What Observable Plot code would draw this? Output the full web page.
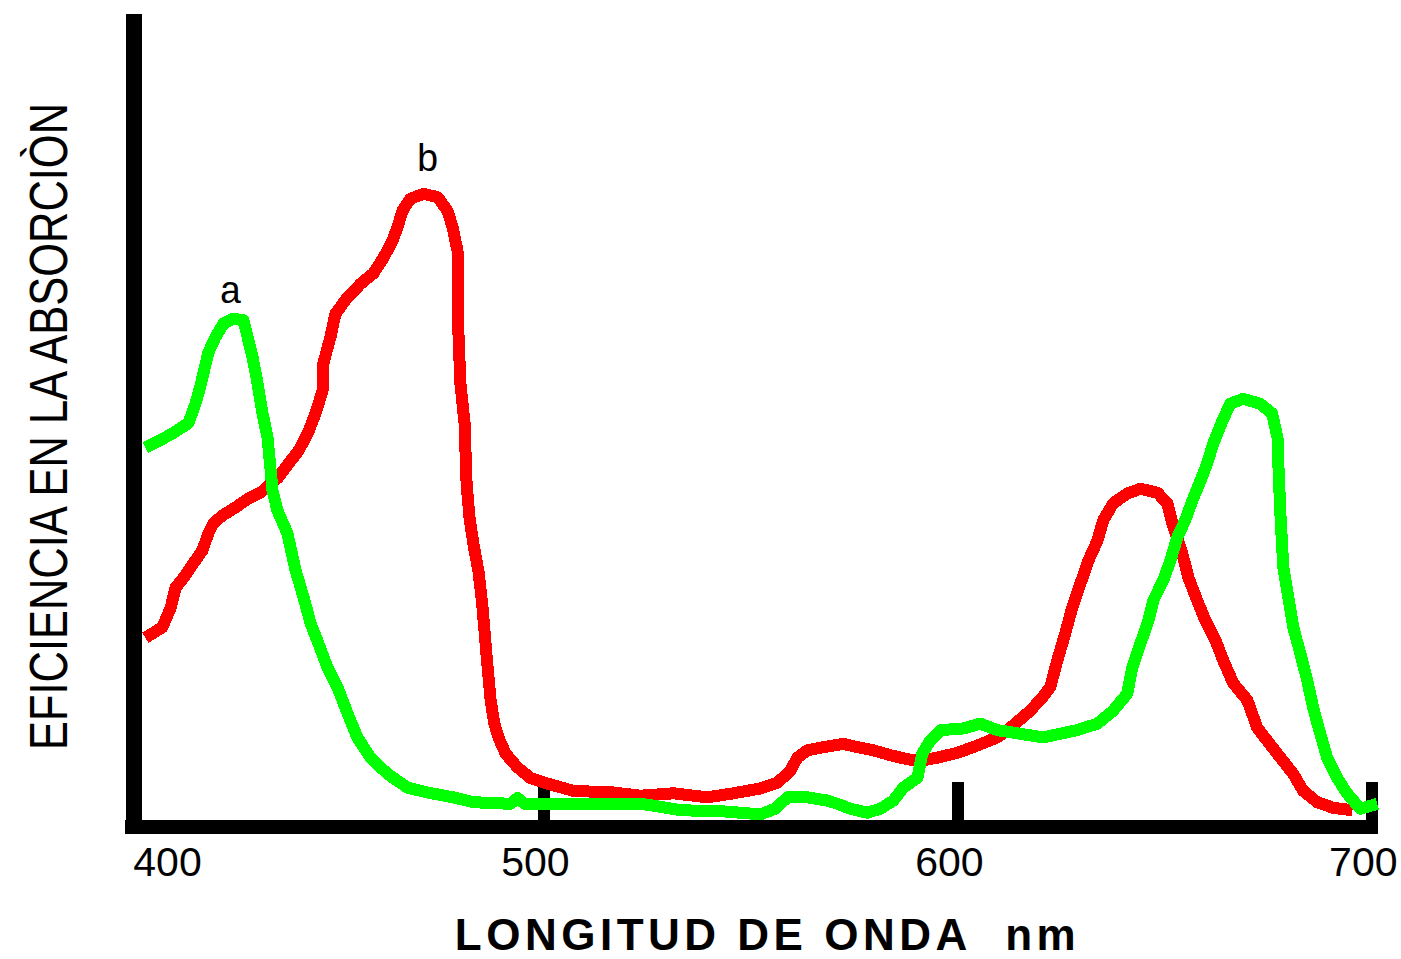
<!DOCTYPE html>
<html><head><meta charset="utf-8">
<script src="https://cdn.jsdelivr.net/npm/d3@7"></script>
<script src="https://cdn.jsdelivr.net/npm/@observablehq/plot@0.6"></script>
<style>html,body{margin:0;padding:0;background:#fff;} svg{display:block}</style>
</head><body><div id="chart"></div>
<script>
const seriesNames = ["a", "b"];
// [wavelength nm, absorption efficiency (arbitrary units)]
const curveA = [[403.6,46.8],[407.2,47.7],[410.4,48.6],[414.0,49.8],[415.7,52.2],[416.9,54.4],[418.8,58.5],[420.5,60.4],[422.5,62.1],[424.9,62.7],[427.3,62.5],[428.3,60.4],[429.5,57.9],[430.7,54.7],[431.9,51.0],[433.1,48.0],[433.8,44.3],[434.3,41.5],[435.5,39.0],[437.9,36.2],[439.9,31.6],[441.8,28.3],[443.5,25.1],[445.4,22.6],[447.6,19.6],[450.0,17.2],[452.4,14.0],[454.8,11.0],[458.0,8.5],[462.1,6.5],[466.9,4.8],[471.7,4.2],[478.0,3.6],[482.9,3.0],[491.8,2.8],[493.5,3.5],[495.2,2.8],[499.0,2.8],[523.2,2.8],[527.3,2.5],[532.9,2.0],[542.5,1.9],[552.2,1.5],[555.8,2.2],[558.7,3.6],[563.5,3.6],[568.4,3.2],[570.8,2.8],[573.9,2.2],[578.0,1.7],[581.2,2.2],[584.3,3.2],[586.7,4.8],[590.1,6.0],[591.3,9.0],[593.2,10.6],[595.7,11.9],[601.2,12.1],[605.3,12.7],[609.4,11.9],[620.5,11.0],[628.7,11.9],[633.6,12.7],[637.4,14.3],[640.8,16.4],[642.0,19.6],[644.0,22.6],[645.9,25.4],[647.1,27.9],[649.5,30.4],[651.2,32.8],[652.9,35.7],[654.8,37.8],[656.5,40.2],[658.5,42.7],[660.1,44.8],[661.6,47.3],[663.8,50.1],[665.7,52.2],[668.8,52.8],[672.9,52.2],[675.8,51.0],[677.1,48.0],[677.3,44.8],[677.8,38.6],[678.5,32.0],[679.7,28.3],[680.9,24.6],[682.6,21.4],[684.3,18.0],[685.7,14.7],[687.4,11.5],[689.1,8.5],[691.5,6.0],[693.9,4.1],[697.1,2.2],[701.2,2.8]];
const curveB = [[403.6,23.3],[407.7,24.6],[409.7,27.0],[410.9,29.5],[412.8,30.7],[415.2,32.5],[417.4,34.1],[418.8,36.2],[420.0,37.4],[422.2,38.4],[425.4,39.4],[428.5,40.5],[431.4,41.2],[435.7,43.1],[438.2,44.8],[440.6,46.4],[442.8,48.5],[444.7,51.0],[446.4,53.8],[446.6,57.2],[448.3,60.4],[449.5,63.3],[452.4,65.3],[455.6,67.0],[458.7,68.3],[461.1,70.2],[463.3,72.3],[464.5,74.0],[465.7,76.0],[467.6,77.5],[470.8,78.1],[474.2,77.7],[476.6,76.0],[477.8,74.0],[479.0,71.1],[479.2,61.2],[479.7,54.7],[480.7,49.8],[481.2,42.3],[481.9,38.1],[482.9,34.7],[484.1,31.4],[485.0,27.3],[486.0,21.2],[487.0,15.6],[487.9,12.7],[488.9,11.0],[490.6,9.0],[493.5,7.3],[496.6,6.0],[500.7,5.3],[507.0,4.4],[516.7,4.2],[523.2,3.8],[531.2,4.1],[539.4,3.6],[545.7,4.1],[552.2,4.7],[556.3,5.4],[559.4,6.9],[561.1,8.5],[563.5,9.4],[567.4,9.8],[572.2,10.2],[575.6,9.8],[579.5,9.4],[583.6,8.8],[587.7,8.3],[590.8,8.1],[594.9,8.5],[599.8,9.1],[604.6,10.0],[609.4,11.0],[612.6,12.2],[616.7,14.0],[619.8,15.6],[622.2,17.2],[623.9,20.5],[625.8,23.8],[627.5,27.0],[629.5,30.0],[631.4,32.8],[633.6,35.3],[635.0,37.8],[637.4,39.9],[640.8,41.1],[644.0,41.7],[648.1,41.2],[650.5,39.9],[651.7,37.4],[654.1,33.7],[655.6,30.7],[657.7,27.9],[659.7,25.4],[662.1,23.0],[664.0,20.5],[666.4,17.7],[669.8,15.6],[672.2,12.2],[674.6,10.6],[677.8,8.5],[680.9,6.5],[683.3,4.4],[686.7,3.0],[690.6,2.3],[695.2,2.0]];
const xTickLabels = [400, 500, 600, 700];
const majorTicks = [500, 600, 700];
const xLabel = "LONGITUD DE ONDA\u00a0 nm";
const yLabel = "EFICIENCIA EN LA ABSORCIÒN";
const colors = {a: "#00ff00", b: "#ff0000"};

const dataA = curveA.map(([x, y]) => ({x, y}));
const dataB = curveB.map(([x, y]) => ({x, y}));
const peakA = d3.greatest(dataA, d => d.y);
const peakB = d3.greatest(dataB, d => d.y);
const tickFont = {fontSize: 41, fontFamily: "Liberation Sans, Arial, sans-serif"};

const svg = Plot.plot({
  width: 1401, height: 959,
  marginLeft: 130, marginRight: 23, marginTop: 16, marginBottom: 133,
  x: {domain: [400, 701.5], label: null},
  y: {domain: [0, 100], label: null, axis: null},
  style: {background: "#fff", color: "#000", fontFamily: "Liberation Sans, Arial, sans-serif"},
  marks: [
    Plot.ruleX([400], {y1: 100, y2: 0, dx: 3, stroke: "#000", strokeWidth: 16, insetTop: -2, insetBottom: -7}),
    Plot.ruleY([0], {x1: 400, x2: 701.5, stroke: "#000", strokeWidth: 14, insetLeft: -5}),
    Plot.ruleX(majorTicks, {y1: 0, y2: 0, insetTop: -44, stroke: "#000", strokeWidth: 12}),
    Plot.axisX([xTickLabels[0]], {tickSize: 0, tickPadding: 20, dx: 37, label: null, ...tickFont}),
    Plot.axisX(xTickLabels.slice(1), {tickSize: 0, tickPadding: 20, dx: -9, label: null, ...tickFont}),
    Plot.line(dataB, {x: "x", y: "y", stroke: colors.b, strokeWidth: 12, strokeLinecap: "butt", strokeLinejoin: "round"}),
    Plot.line(dataA, {x: "x", y: "y", stroke: colors.a, strokeWidth: 12, strokeLinecap: "butt", strokeLinejoin: "round"}),
    Plot.text([peakA], {x: "x", y: "y", text: () => seriesNames[0], dx: -3, dy: -16, lineAnchor: "bottom", textAnchor: "middle", fontSize: 38, fontFamily: "Liberation Mono, monospace"}),
    Plot.text([peakB], {x: "x", y: "y", text: () => seriesNames[1], dx: 4, dy: -23, lineAnchor: "bottom", textAnchor: "middle", fontSize: 38, fontFamily: "Liberation Mono, monospace"}),
    Plot.text([xLabel], {text: d => d, frameAnchor: "bottom", dx: 13, dy: 123, lineAnchor: "bottom", textAnchor: "middle", fontSize: 44, fontWeight: "bold", fontFamily: "Liberation Sans, Arial, sans-serif"}),
    Plot.text([yLabel], {text: d => d, frameAnchor: "left", rotate: -90, dx: -64, dy: 5, lineAnchor: "bottom", textAnchor: "middle", fontSize: 53, fontFamily: "Liberation Sans, Arial, sans-serif"})
  ]
});
svg.setAttribute("shape-rendering", "crispEdges");
for (const t of svg.querySelectorAll("text")) {
  if (t.textContent === xLabel) t.style.letterSpacing = "4.5px";
  if (t.textContent === yLabel) {
    const tr = t.getAttribute("transform") || "";
    t.setAttribute("transform", (tr + " scale(0.82,1)").trim());
  }
}
document.getElementById("chart").appendChild(svg);
</script>
</body></html>
